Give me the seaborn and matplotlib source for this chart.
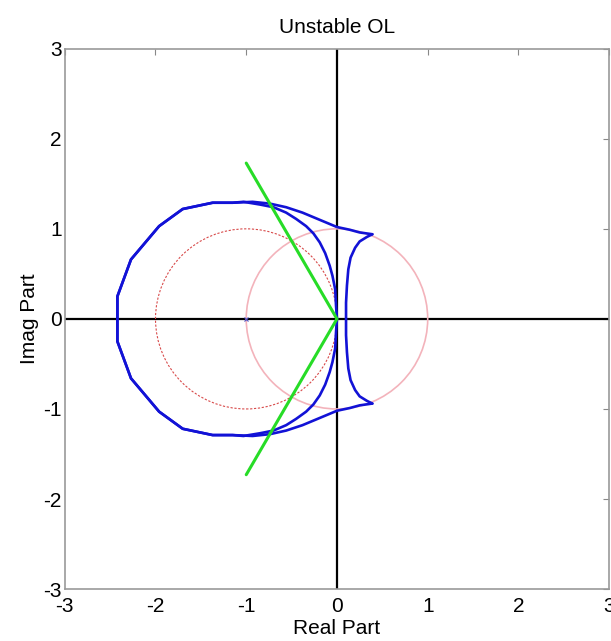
import numpy as np
import pandas as pd
import matplotlib
matplotlib.use("Agg")
import matplotlib.pyplot as plt
import seaborn as sns
from matplotlib.patches import Circle

# Root locus branches
# branch from upper pole, over the top, round the left and back to lower pole
outer_x = [0.39, 0.25, 0.14, 0.0, -0.19, -0.38, -0.56, -0.74, -0.93, -1.15, -1.37, -1.70, -1.96, -2.27, -2.42,
           -2.42, -2.27, -1.96, -1.70, -1.37, -1.15, -0.93, -0.74, -0.56, -0.38, -0.19, 0.0, 0.14, 0.25, 0.39]
outer_y = [0.94, 0.96, 0.99, 1.02, 1.10, 1.18, 1.24, 1.28, 1.30, 1.29, 1.29, 1.22, 1.03, 0.66, 0.25,
           -0.25, -0.66, -1.03, -1.22, -1.29, -1.29, -1.30, -1.28, -1.24, -1.18, -1.10, -1.02, -0.99, -0.96, -0.94]

# branch from origin, inner arc, round the left and back to origin
inner_x = [0.0, -0.01, -0.02, -0.05, -0.08, -0.13, -0.19, -0.26, -0.34, -0.45, -0.56, -0.70, -0.85, -1.03,
           -1.15, -1.37, -1.70, -1.96, -2.27, -2.42,
           -2.42, -2.27, -1.96, -1.70, -1.37, -1.15,
           -1.03, -0.85, -0.70, -0.56, -0.45, -0.34, -0.26, -0.19, -0.13, -0.08, -0.05, -0.02, -0.01, 0.0]
inner_y = [0.0, 0.14, 0.33, 0.48, 0.59, 0.73, 0.85, 0.95, 1.03, 1.11, 1.18, 1.24, 1.27, 1.30,
           1.29, 1.29, 1.22, 1.03, 0.66, 0.25,
           -0.25, -0.66, -1.03, -1.22, -1.29, -1.29,
           -1.30, -1.27, -1.24, -1.18, -1.11, -1.03, -0.95, -0.85, -0.73, -0.59, -0.48, -0.33, -0.14, 0.0]

# branch from upper pole down to the real axis and on to the lower pole
pole_x = [0.39, 0.33, 0.25, 0.20, 0.15, 0.125, 0.11, 0.10, 0.10,
          0.10, 0.11, 0.125, 0.15, 0.20, 0.25, 0.33, 0.39]
pole_y = [0.94, 0.91, 0.86, 0.79, 0.68, 0.55, 0.37, 0.18, 0.0,
          -0.18, -0.37, -0.55, -0.68, -0.79, -0.86, -0.91, -0.94]

# damping lines
damp_x = [-1.0, 0.0, -1.0]
damp_y = [1.73, 0.0, -1.73]

# circles: centre and radius
red_center = (-1.0, 0.0)
red_radius = 1.0
pink_center = (0.0, 0.0)
pink_radius = 1.0

marker_x = [-1.0]
marker_y = [0.0]

sns.set_style("white")
plt.rcParams["font.family"] = ["Liberation Sans", "DejaVu Sans"]
plt.rcParams["axes.unicode_minus"] = False
plt.rcParams["text.color"] = "black"
plt.rcParams["axes.labelcolor"] = "black"
plt.rcParams["xtick.labelcolor"] = "black"
plt.rcParams["ytick.labelcolor"] = "black"

fig = plt.figure(figsize=(6.11, 6.41), dpi=100)
ax = fig.add_axes([0.106, 0.081, 0.891, 0.843])

ax.axhline(0, color="black", lw=1.6, zorder=1)
ax.axvline(0, color="black", lw=1.6, zorder=1)

ax.add_patch(Circle(pink_center, pink_radius, fill=False, ec="#f3b3bb", lw=1.2, zorder=2))
ax.add_patch(Circle(red_center, red_radius, fill=False, ec="#d84a4a", lw=0.8, ls=(0, (2, 1.5)), zorder=2))

blue = "#1212d6"
for xs, ys in [(outer_x, outer_y), (inner_x, inner_y), (pole_x, pole_y)]:
    sns.lineplot(x=xs, y=ys, sort=False, estimator=None, color=blue, lw=1.9, ax=ax, zorder=3)

sns.lineplot(x=damp_x, y=damp_y, sort=False, estimator=None, color="#27dc27", lw=2.2, ax=ax, zorder=4)
ax.plot(marker_x, marker_y, "x", color="#5050c0", ms=3, mew=0.8, zorder=3)

ax.set_xlim(-3, 3)
ax.set_ylim(-3, 3)
ax.set_xticks(range(-3, 4))
ax.set_yticks(range(-3, 4))
ax.tick_params(direction="in", length=4, color="#888888", labelsize=15, top=True, right=True)
ax.tick_params(axis="x", pad=6)
ax.tick_params(axis="y", pad=2)
for s in ax.spines.values():
    s.set_color("#999999")
    s.set_linewidth(1.2)

ax.set_title("Unstable OL", fontsize=15, pad=11)
ax.set_xlabel("Real Part", fontsize=15, labelpad=2)
ax.set_ylabel("Imag Part", fontsize=15, labelpad=3)

fig.savefig("out.png", dpi=100)
